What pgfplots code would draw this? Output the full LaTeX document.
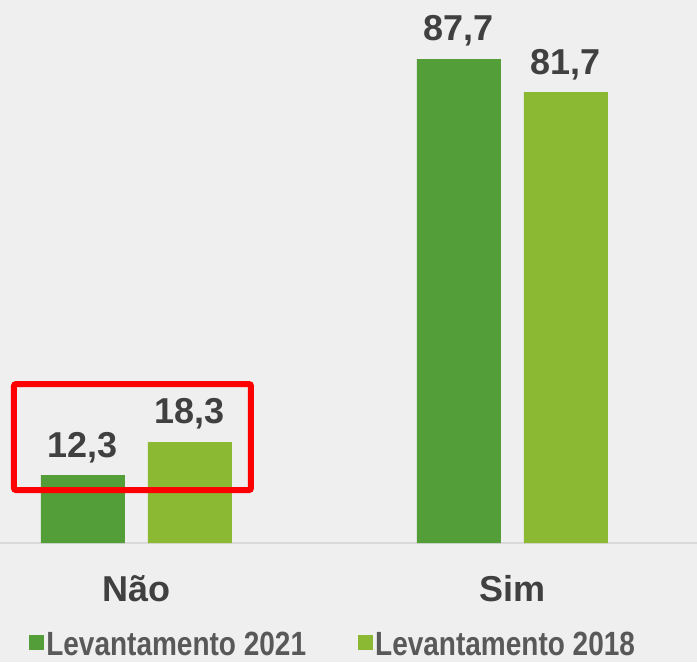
\documentclass[border=0pt]{standalone}
\usepackage{pgfplots}
\pgfplotsset{compat=1.18}
\usetikzlibrary{backgrounds}
\usepackage{fontspec}
\setmainfont{Liberation Sans}
\definecolor{dg}{HTML}{549E3A}
\definecolor{lg}{HTML}{8CB934}
\definecolor{txt}{HTML}{404040}
\definecolor{ltxt}{HTML}{595959}
\definecolor{bg}{HTML}{EFEFEF}
\begin{document}
\begin{tikzpicture}
\begin{axis}[
  scale only axis, width=697pt, height=543pt,
  xmin=-0.363, xmax=1.491, ymin=0, ymax=98.4,
  ybar=23pt, bar width=84pt,
  xtick={0,1}, xticklabels={Não,Sim},
  ytick=\empty,
  axis x line*=bottom, axis y line=none,
  x axis line style={-,draw=black!15,line width=1.5pt},
  major tick length=0pt,
  xticklabel style={font=\bfseries\fontsize{36}{36}\selectfont, text=txt, anchor=base, yshift=-58pt},
  clip=false,
  nodes near coords,
  nodes near coords style={font=\bfseries\fontsize{36}{36}\selectfont, text=txt, yshift=9pt},
  /pgf/number format/.cd, fixed, fixed zerofill, precision=1, use comma, assume math mode=true,
  /pgfplots/.cd,
  legend style={at={(axis description cs:0.478,-0.187)}, anchor=center, legend columns=2, draw=none, fill=none,
    inner sep=0pt, nodes={inner sep=2pt},
    font=\bfseries\fontsize{28}{28}\selectfont, text=ltxt,
    /tikz/every even column/.append style={column sep=50pt}},
  legend image code/.code={\fill[#1,draw=none] (0pt,-5pt) rectangle (15pt,10pt);},
]
\addplot[fill=dg, draw=none] coordinates {(0,12.3) (1,87.7)};
\addplot[fill=lg, draw=none] coordinates {(0,18.3) (1,81.7)};
\legend{\scalebox{1}[1.2]{Levantamento 2021}, \scalebox{1}[1.2]{Levantamento 2018}}
\draw[red, line width=6pt, rounded corners=2pt] (axis cs:-0.3258,9.6) rectangle (axis cs:0.3045,28.8);
\coordinate (bl) at (axis cs:-0.363,0);
\coordinate (tr) at (axis cs:1.491,98.4);
\end{axis}
\begin{scope}[on background layer]
\fill[bg] ([yshift=-119pt]bl) rectangle (tr);
\end{scope}
\pgfresetboundingbox
\useasboundingbox ([yshift=-119pt]bl) rectangle (tr);
\end{tikzpicture}
\end{document}
